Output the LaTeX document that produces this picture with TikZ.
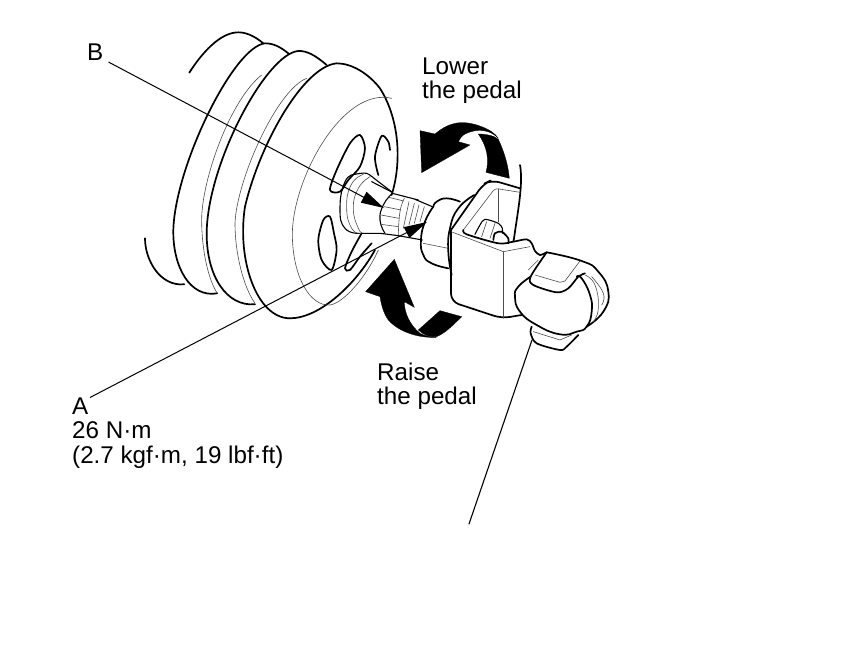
\documentclass[tikz,border=0pt]{standalone}
\usepackage{fontspec}
\setmainfont{Liberation Sans}
\usetikzlibrary{arrows.meta}
\tikzset{
    lbl/.style={inner sep=0, align=left, font=\fontsize{24.2}{24.5}\selectfont},
    heavy/.style={line width=1.7pt, line cap=round, line join=round},
    mid/.style={line width=1.1pt, line cap=round, line join=round},
    fine/.style={line width=0.6pt, black!70, line cap=round, line join=round},
    leader/.style={line width=1pt, -{Triangle[length=23pt,width=12pt]}},
    blk/.style={fill=black, draw=black, line width=0.3pt},
    rnd/.style={smooth, tension=0.85},
    z/.style={shift={#1}, scale=0.3333}
}
\begin{document}
\begin{tikzpicture}[x=1pt, y=-1pt]
    \useasboundingbox (0,0) rectangle (860,666);

    % wheel
    \begin{scope}[z={(130,20)}]
    \draw[heavy] (785,525) .. controls (815,430) and (810,300) .. (750,205) .. controls (715,160) and (665,130) .. (620,130) .. controls (520,140) and (390,370) .. (345,560) .. controls (320,720) and (380,895) .. (480,895) .. controls (570,895) and (680,790) .. (735,690);
    \draw[heavy] (590,135) .. controls (555,105) and (530,92) .. (505,93) .. controls (410,100) and (232,430) .. (230,640) .. controls (230,770) and (290,860) .. (375,853);
    \draw[heavy] (475,100) .. controls (450,80) and (430,70) .. (405,70) .. controls (310,80) and (135,440) .. (130,630) .. controls (128,740) and (180,835) .. (262,820);
    \draw[heavy] (400,70) .. controls (370,45) and (345,37) .. (325,37) .. controls (270,37) and (215,100) .. (178,158);
    \draw[heavy] (45,655) .. controls (45,720) and (90,800) .. (163,793);
    \draw[fine] (395,165) .. controls (300,240) and (215,480) .. (215,600) .. controls (215,690) and (235,780) .. (262,820);
    \draw[fine] (530,175) .. controls (440,210) and (320,480) .. (315,610) .. controls (315,700) and (340,800) .. (375,850);
    \draw[fine] (785,235) .. controls (640,200) and (490,470) .. (487,640) .. controls (487,770) and (540,860) .. (600,855) .. controls (640,850) and (710,770) .. (745,690);
    % holes
    \draw[heavy] plot[smooth cycle] coordinates {(690,345) (705,385) (690,440) (655,480) (630,515) (600,510) (620,450) (660,370)};
    \draw[heavy] plot[smooth] coordinates {(745,465) (735,410) (755,348) (775,365) (780,390)};
    \draw[heavy] plot[smooth cycle] coordinates {(600,590) (612,640) (620,690) (605,750) (575,720) (565,660) (580,600)};
    \draw[heavy] plot[smooth] coordinates {(695,640) (665,695) (645,745) (660,750) (690,710) (725,670)};
    \end{scope}

    % hub and nuts
    \begin{scope}[z={(335,165)}]
    \draw[mid] plot[rnd] coordinates {(60,28) (30,50) (15,130) (30,190) (75,205)};
    \draw[fine] plot[rnd] coordinates {(85,28) (48,60) (35,130) (50,190) (75,205)};
    \draw[fine] plot[rnd] coordinates {(105,35) (70,70) (55,130) (70,190) (85,205)};
    \draw[mid] plot[smooth] coordinates {(60,28) (95,25) (130,50) (172,82)};
    \draw[mid] (110,50) -- (172,82);
    \draw[mid] (80,205) -- (135,205) -- (190,212);
    \draw[mid] plot[rnd] coordinates {(172,85) (145,120) (135,165) (150,205)};
    \draw[mid] (172,85) -- (250,105);
    \draw[fine] plot[rnd] coordinates {(208,100) (195,140) (190,210)};
    \draw[fine] (162,97) -- (206,108) (148,125) -- (198,135) (138,150) -- (192,160) (138,178) -- (190,185);
    \draw[mid] (240,103) -- (292,125);
    \draw[fine] (222,110) -- (205,190) (238,115) -- (222,180) (252,120) -- (238,175) (268,125) -- (255,170);
    \draw[mid] (190,212) -- (262,225);
    \draw[heavy] plot[rnd] coordinates {(295,125) (305,110) (335,100) (375,110)};
    \draw[heavy] plot[rnd] coordinates {(295,125) (270,170) (258,225) (265,270) (290,295) (340,310)};
    \draw[fine] (265,235) -- (340,250);
    \draw[heavy] plot[rnd] coordinates {(418,90) (370,130) (345,190) (340,260) (350,330)};
    \end{scope}

    % bracket and hinge
    \begin{scope}[z={(440,175)}]
    \draw[heavy] plot[rnd] coordinates {(240,-30) (242,40) (225,170) (220,198)};
    \draw[heavy, rounded corners=8pt] (33,165) -- (130,27) -- (155,15) -- (240,40);
    \draw[heavy, rounded corners=8pt] (33,165) -- (33,380) -- (185,430) -- (245,420);
    \draw[fine, rounded corners=3pt] (70,165) -- (165,40) -- (240,52);
    \draw[fine] (33,170) -- (190,230) -- (270,215);
    \draw[fine] (190,230) -- (190,430);
    \draw[fine] (175,42) -- (175,140);
    \draw[heavy] plot[smooth] coordinates {(70,165) (80,178) (175,205) (220,200) (260,193) (275,205) (285,228) (300,240) (320,232)};
    \draw[mid] plot[smooth] coordinates {(105,178) (120,150) (135,133) (175,145) (187,160) (187,175)};
    \draw[fine] (140,140) -- (125,185) (165,145) -- (150,190);
    \draw[heavy] plot[smooth] coordinates {(160,195) (165,175) (185,170) (205,190) (205,205)};
    \draw[fine] (295,255) -- (265,285);
    \draw[heavy] plot[rnd] coordinates {(320,232) (425,258) (475,290) (505,350) (490,410) (440,455)};
    \draw[heavy] plot[smooth] coordinates {(320,232) (272,305) (280,330) (350,352) (385,340) (415,305) (435,295)};
    \draw[heavy] plot[rnd] coordinates {(272,305) (235,335) (225,365) (240,410) (290,450) (360,478) (410,470) (440,455) (455,410) (450,360) (425,310) (410,305)};
    \draw[fine] (285,300) -- (360,322) -- (375,318) -- (420,258);
    \draw[fine] plot[rnd] coordinates {(435,300) (465,330) (475,400) (460,440)};
    \draw[fine] plot[rnd] coordinates {(455,305) (490,355) (485,390)};
    \draw[heavy] plot[smooth] coordinates {(275,455) (272,475) (290,505) (360,525) (380,515) (415,480)};
    \draw[fine] (280,470) -- (360,495) -- (395,480);
    \end{scope}

    % turning arrows
    \begin{scope}[z={(410,110)}]
    \fill[blk] (30,62) -- (75,72) .. controls (110,42) and (150,25) .. (215,50) .. controls (240,60) and (255,70) .. (265,85) .. controls (245,62) and (205,52) .. (165,72) .. controls (155,78) and (150,85) .. (145,95) -- (180,105) -- (35,188) -- cycle;
    \fill[blk] (205,72) .. controls (230,72) and (255,78) .. (265,88) .. controls (285,130) and (295,170) .. (298,205) -- (228,187) .. controls (238,150) and (232,110) .. (205,72) -- cycle;
    \end{scope}
    \begin{scope}[z={(355,250)}]
    \fill[blk] (118,28) -- (178,172) -- (148,155) .. controls (148,190) and (165,225) .. (195,250) .. controls (210,258) and (225,260) .. (245,262) .. controls (190,265) and (130,245) .. (100,210) .. controls (85,190) and (78,160) .. (75,140) -- (32,125) -- cycle;
    \fill[blk] (190,240) -- (255,182) -- (320,200) .. controls (295,225) and (270,250) .. (245,260) .. controls (225,262) and (205,255) .. (190,240) -- cycle;
    \end{scope}

    % labels
    \node[lbl, anchor=north west] (labelB) at (87,44) {B};
    \node[lbl, anchor=north west] (labelLower) at (422,57.5) {Lower\\the pedal};
    \node[lbl, anchor=north west] (labelRaise) at (377,362.5) {Raise\\the pedal};
    \node[lbl, anchor=north west] (labelA) at (72,397.5) {A\\26 N·m\\(2.7 kgf·m, 19 lbf·ft)};

    \coordinate (tipB) at (384,208);
    \coordinate (tipA) at (427,222);
    \coordinate (rodEnd) at (469,524);
    \coordinate (rodTop) at (532,340);

    \draw[leader] ([xshift=5pt,yshift=-1pt]labelB.south east) -- (tipB);
    \draw[leader] ([xshift=18pt]labelA.north west) -- (tipA);
    \draw[mid] (rodTop) -- (rodEnd);
\end{tikzpicture}
\end{document}
